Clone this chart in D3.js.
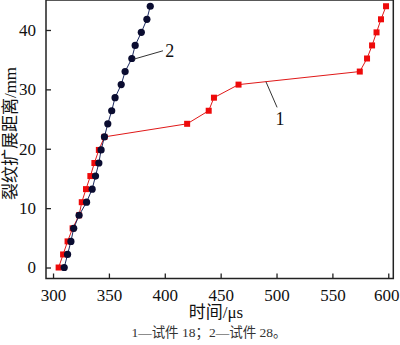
<!DOCTYPE html>
<html><head><meta charset="utf-8">
<script src="https://cdn.jsdelivr.net/npm/d3@7"></script>
<style>body{margin:0;background:#fff}svg{display:block}</style>
</head><body>
<script>
const crackLen = [0,2.2,4.4,6.6,8.8,11,13.2,15.4,17.6,19.8,22,24.2,26.4,28.6,30.8,33,35.2,37.4,39.6,41.8,44];
const time1 = [305,309,313,317.5,323.3,325.7,329.5,333.4,337,341,346,420,439.3,444,466,574.5,581,585.5,589.5,593.5,598];
const time2 = [310,313,316,318.5,323.3,330,335,338,341,343,346,349,352.5,355.5,361,364.5,370.5,373.5,379,384,387];
const xTicks = [300,350,400,450,500,550,600];
const yTicks = [0,10,20,30,40];
const xLabel = "时间/μs", yLabel = "裂纹扩展距离/mm", caption = "1—试件 18；2—试件 28。";
const seriesLabels = ["1","2"];

const W=400,H=345;
const svg=d3.select("body").append("svg").attr("width",W).attr("height",H);
const x=d3.scaleLinear().domain([293.7,604.5]).range([46,393.3]);
const y=d3.scaleLinear().domain([-1.85,45.05]).range([278.5,0]);
const serif="'Liberation Serif','Times New Roman',serif";
const cjk="'Liberation Serif','Noto Sans CJK SC',serif";

// axes
const gx=svg.append("g").attr("transform","translate(0,278.5)")
  .call(d3.axisBottom(x).tickValues(xTicks).tickSizeInner(-5).tickSizeOuter(0).tickPadding(10));
const gy=svg.append("g").attr("transform","translate(46,0)")
  .call(d3.axisLeft(y).tickValues(yTicks).tickSizeInner(-5).tickSizeOuter(0).tickPadding(10));
[gx,gy].forEach(g=>{g.select(".domain").remove();
  g.selectAll("text").attr("font-family",serif).attr("font-size",17).attr("fill","#111");
  g.selectAll("line").attr("stroke","#222").attr("stroke-width",1.3);});
gx.selectAll("text").filter(d=>d===600).attr("dx",-2);
// frame
svg.append("rect").attr("x",46).attr("y",0).attr("width",393.3-46).attr("height",278.5)
  .attr("fill","none").attr("stroke","#222").attr("stroke-width",1.5);

const line=d3.line();
const pts1=crackLen.map((v,i)=>[x(time1[i]),y(v)]);
const pts2=crackLen.map((v,i)=>[x(time2[i]),y(v)]);
svg.append("path").attr("d",line(pts1)).attr("fill","none").attr("stroke","#e01818").attr("stroke-width",1);
svg.selectAll(".sq").data(pts1).join("rect").attr("x",d=>d[0]-3).attr("y",d=>d[1]-3)
  .attr("width",6).attr("height",6).attr("fill","#ee0a0a");
svg.append("path").attr("d",line(pts2)).attr("fill","none").attr("stroke","#1c2a60").attr("stroke-width",1);
svg.selectAll(".ci").data(pts2).join("circle").attr("cx",d=>d[0]).attr("cy",d=>d[1])
  .attr("r",3.6).attr("fill","#0a0c30");

// annotations
svg.append("line").attr("x1",x(490.5)).attr("y1",y(31.3)).attr("x2",x(500.5)).attr("y2",y(26.97))
  .attr("stroke","#333").attr("stroke-width",1);
svg.append("text").attr("x",x(499)).attr("y",y(24.0)).text(seriesLabels[0])
  .attr("font-family",serif).attr("font-size",18).attr("fill","#111");
svg.append("line").attr("x1",x(372.5)).attr("y1",y(35.1)).attr("x2",x(398.4)).attr("y2",y(36.5))
  .attr("stroke","#333").attr("stroke-width",1);
svg.append("text").attr("x",x(400.5)).attr("y",y(35.4)).text(seriesLabels[1])
  .attr("font-family",serif).attr("font-size",18).attr("fill","#111");

// labels
svg.append("text").attr("transform","translate(16,133.5) rotate(-90)").attr("text-anchor","middle")
  .attr("font-family",cjk).attr("font-size",17).attr("fill","#111").text(yLabel);
svg.append("text").attr("x",216).attr("y",318).attr("text-anchor","middle")
  .attr("font-family",cjk).attr("font-size",17).attr("fill","#111").text(xLabel);
svg.append("text").attr("x",209).attr("y",337).attr("text-anchor","middle")
  .attr("font-family",cjk).attr("font-size",13.5).attr("fill","#333").text(caption);
</script>
</body></html>
